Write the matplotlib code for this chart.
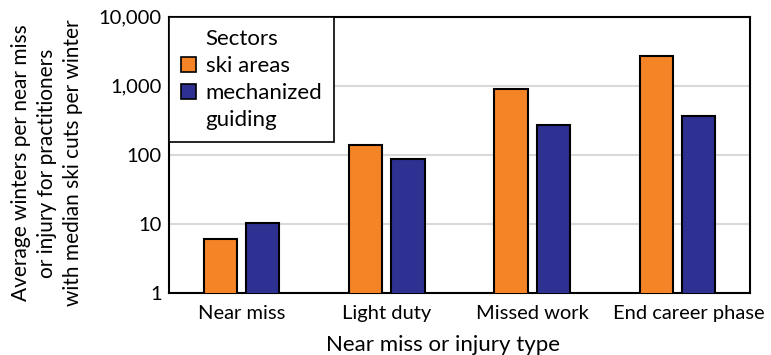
import numpy as np
import matplotlib.pyplot as plt
import matplotlib.transforms as mtransforms
from matplotlib.patches import Patch
from matplotlib.ticker import FixedLocator, FixedFormatter, NullLocator

plt.rcParams['font.family'] = ['Lato', 'DejaVu Sans']

injury_types = ['Near miss', 'Light duty', 'Missed work', 'End career phase']
ski_areas = [6.0, 140, 905, 2670]
mech_guiding = [10.3, 86, 273, 366]

y_ticks = [1, 10, 100, 1000, 10000]
y_tick_labels = ['1', '10', '100', '1,000', '10,000']

orange = '#F58426'
navy = '#2E3192'

fig = plt.figure(figsize=(7.71, 3.55), dpi=100)
ax = fig.add_axes([0.219, 0.1755, 0.754, 0.7775])

x = np.arange(len(injury_types))
w = 0.23
off = 0.145
ax.bar(x - off, ski_areas, w, color=orange, edgecolor='black', linewidth=1.5, zorder=3)
ax.bar(x + off, mech_guiding, w, color=navy, edgecolor='black', linewidth=1.5, zorder=3)

ax.set_yscale('log')
ax.set_ylim(1, 10000)
ax.set_xlim(-0.5, 3.5)
ax.yaxis.set_major_locator(FixedLocator(y_ticks))
ax.yaxis.set_major_formatter(FixedFormatter(y_tick_labels))
ax.yaxis.set_minor_locator(NullLocator())
ax.set_xticks(x)
ax.set_xticklabels(injury_types)
ax.tick_params(axis='both', length=0, labelsize=14.5, pad=5)
ax.tick_params(axis='x', pad=9)
ax.grid(axis='y', color='#d9d9d9', linewidth=1.5, zorder=0)
for s in ax.spines.values():
    s.set_linewidth(1.5)

# last category label sits a little to the right of its bars
last = ax.get_xticklabels()[-1]
last.set_transform(last.get_transform() + mtransforms.ScaledTranslation(0.11, 0, fig.dpi_scale_trans))

ax.set_xlabel('Near miss or injury type', fontsize=16)
ax.xaxis.set_label_coords(0.471, -0.155)
ax.set_ylabel('Average winters per near miss\nor injury for practitioners\nwith median ski cuts per winter',
              fontsize=15, linespacing=1.4)
ax.yaxis.set_label_coords(-0.147, 0.47)

# legend: title and second label line as entries without a swatch
blank = Patch(facecolor='none', edgecolor='none')
handles = [blank,
           Patch(facecolor=orange, edgecolor='black', linewidth=1.2),
           Patch(facecolor=navy, edgecolor='black', linewidth=1.2),
           blank]
labels = ['Sectors', 'ski areas', 'mechanized', 'guiding']
leg = ax.legend(handles, labels, loc='upper left', bbox_to_anchor=(0, 1.0), fontsize=16,
                frameon=True, fancybox=False, edgecolor='black', framealpha=1,
                handlelength=0.65, handleheight=0.65, handletextpad=0.45,
                labelspacing=0.32, borderpad=0.55, borderaxespad=0)
leg.get_frame().set_linewidth(1.2)
leg.set_zorder(5)

fig.savefig('out.png', dpi=100)
